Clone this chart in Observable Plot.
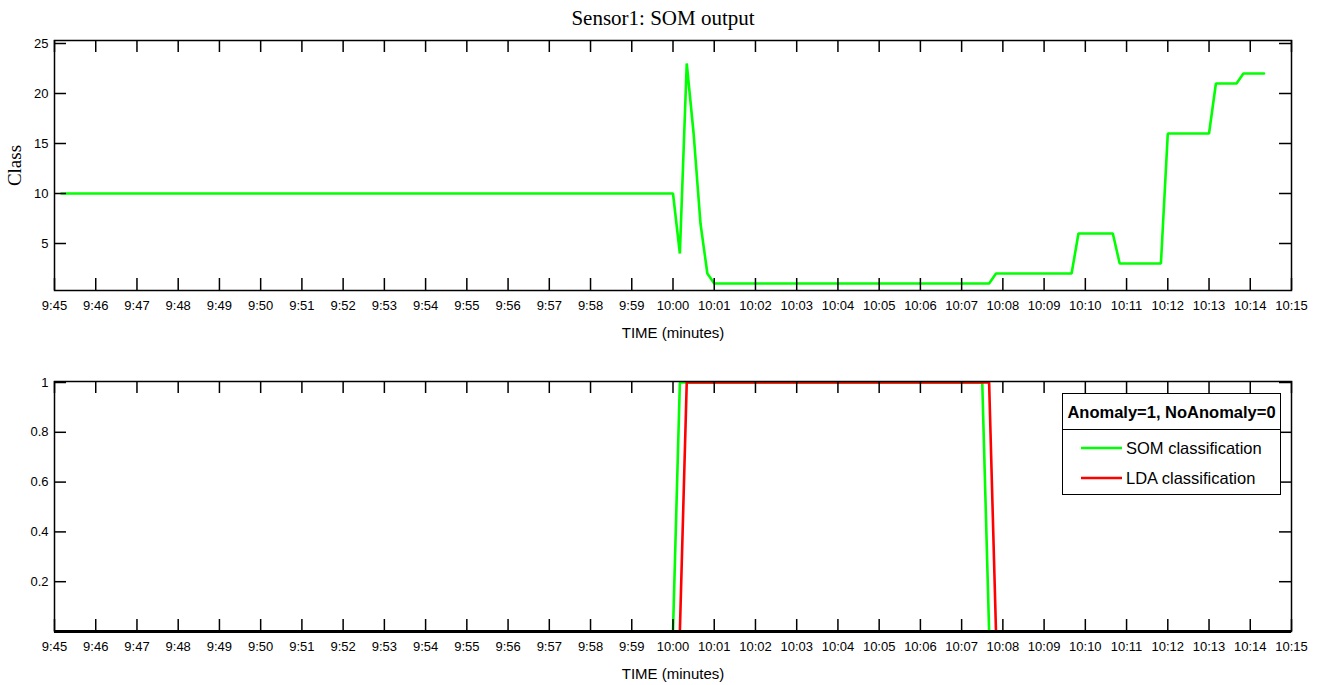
<!DOCTYPE html>
<html>
<head>
<meta charset="utf-8">
<script src="https://cdn.jsdelivr.net/npm/d3@7"></script>
<script src="https://cdn.jsdelivr.net/npm/@observablehq/plot@0.6"></script>
<style>
  html, body { margin: 0; padding: 0; background: #fff; }
  body { width: 1320px; height: 685px; position: relative; overflow: hidden; font-family: "Liberation Sans", Arial, Helvetica, sans-serif; }
  #title { position: absolute; left: 463px; width: 400px; top: 5px; line-height: 26px; text-align: center; font-family: "Liberation Serif", "Times New Roman", serif; font-size: 21px; color: #000; }
  .panel { position: absolute; left: 0; }
  #legend { position: absolute; left: 1062px; top: 393px; width: 219px; height: 102px; box-sizing: border-box; border: 1.5px solid #000; background: #fff; }
  #legend .head { height: 36px; box-sizing: border-box; border-bottom: 1.5px solid #000; font-weight: bold; font-size: 16.5px; line-height: 36px; text-align: center; color: #000; white-space: nowrap; }
  #legend .item { position: absolute; left: 17px; height: 24px; display: flex; align-items: center; font-size: 16.5px; color: #000; white-space: nowrap; }
  #legend .item svg { margin-right: 3px; }
</style>
</head>
<body>
<div id="title">Sensor1: SOM output</div>
<div id="top" class="panel" style="top:0px"></div>
<div id="bottom" class="panel" style="top:345px"></div>
<div id="legend"></div>
<script>
// ---------------- data ----------------
const titleText = "Sensor1: SOM output";
const xLabel = "TIME (minutes)";
const yLabelTop = "Class";

const xTickLabels = ["9:45","9:46","9:47","9:48","9:49","9:50","9:51","9:52","9:53","9:54","9:55","9:56","9:57","9:58","9:59",
  "10:00","10:01","10:02","10:03","10:04","10:05","10:06","10:07","10:08","10:09","10:10","10:11","10:12","10:13","10:14","10:15"];

const topYTicks = [5, 10, 15, 20, 25];
const topYTickLabels = ["5", "10", "15", "20", "25"];
const bottomYTicks = [0.2, 0.4, 0.6, 0.8, 1];
const bottomYTickLabels = ["0.2", "0.4", "0.6", "0.8", "1"];

// SOM output class over time
const somTimes = ["9:45:10","10:00:00","10:00:10","10:00:20","10:00:30","10:00:40","10:00:50","10:01:00",
  "10:07:40","10:07:50","10:09:40","10:09:50","10:10:40","10:10:50","10:11:50","10:12:00",
  "10:13:00","10:13:10","10:13:40","10:13:50","10:14:20"];
const somClass = [10,10,4,23,16,7,2,1,1,2,2,6,6,3,3,16,16,21,21,22,22];

// Anomaly classification (1 = anomaly, 0 = no anomaly)
const seriesNames = ["SOM classification", "LDA classification"];
const seriesColors = ["#00ff00", "#ff0000"];
const somAnomTimes = ["9:45:10","10:00:00","10:00:10","10:07:30","10:07:40","10:14:20"];
const somAnomValues = [0,0,1,1,0,0];
const ldaAnomTimes = ["9:45:10","10:00:10","10:00:20","10:07:40","10:07:50","10:14:20"];
const ldaAnomValues = [0,0,1,1,0,0];

const legendTitle = "Anomaly=1, NoAnomaly=0";

// ---------------- helpers ----------------
function t(s) {
  const [h, m, sec = 0] = s.split(":").map(Number);
  return new Date(Date.UTC(2000, 0, 1, h, m, sec));
}
const xTicks = xTickLabels.map(t);
const xLabelMap = new Map(xTicks.map((d, i) => [+d, xTickLabels[i]]));
const xDomain = [xTicks[0], xTicks[xTicks.length - 1]];

const somData = somTimes.map((s, i) => ({time: t(s), cls: somClass[i]}));
const anomData = [
  ...somAnomTimes.map((s, i) => ({time: t(s), v: somAnomValues[i], series: seriesNames[0]})),
  ...ldaAnomTimes.map((s, i) => ({time: t(s), v: ldaAnomValues[i], series: seriesNames[1]}))
];

const W = 1320, ML = 54, MR = 29;
const PW = W - ML - MR;
const PH = 250;
const TICK = 12;
const SW = 1.5;
const axisFont = "Liberation Sans, Arial, Helvetica, sans-serif";

function boxTicks(yTicks) {
  return [
    Plot.ruleX(xTicks, {x: d => d, insetTop: PH - TICK, stroke: "#000", strokeWidth: SW}),
    Plot.ruleX(xTicks, {x: d => d, insetBottom: PH - TICK, stroke: "#000", strokeWidth: SW}),
    Plot.ruleY(yTicks, {y: d => d, insetRight: PW - TICK, stroke: "#000", strokeWidth: SW}),
    Plot.ruleY(yTicks, {y: d => d, insetLeft: PW - TICK, stroke: "#000", strokeWidth: SW})
  ];
}

function xAxisMarks() {
  return [
    Plot.axisX({ticks: xTicks, tickFormat: d => xLabelMap.get(+d), tickSize: 0, tickPadding: 10, label: null, fontSize: 13}),
    Plot.text([xLabel], {text: d => d, frameAnchor: "bottom", lineAnchor: "middle", textAnchor: "middle", dy: 43, fontSize: 15, fill: "#000"})
  ];
}

// ---------------- top panel ----------------
const topPlot = Plot.plot({
  width: W, height: 345,
  marginTop: 40, marginBottom: 55, marginLeft: ML, marginRight: MR,
  style: {fontFamily: axisFont, fontSize: "13px", background: "transparent", color: "#000", overflow: "visible"},
  x: {type: "utc", domain: xDomain},
  y: {domain: [0.3, 25.3]},
  marks: [
    Plot.line(somData, {x: "time", y: "cls", stroke: seriesColors[0], strokeWidth: 2.6, strokeLinejoin: "miter"}),
    Plot.frame({stroke: "#000", strokeWidth: SW}),
    ...boxTicks(topYTicks),
    ...xAxisMarks(),
    Plot.axisY({ticks: topYTicks, tickFormat: (d) => topYTickLabels[topYTicks.indexOf(d)], tickSize: 0, tickPadding: 6, label: null, fontSize: 13}),
    Plot.text([yLabelTop], {text: d => d, frameAnchor: "left", textAnchor: "middle", lineAnchor: "middle", dx: -40, rotate: -90, fontSize: 19, fontFamily: "Liberation Serif, Times New Roman, serif", fill: "#000"})
  ]
});
document.getElementById("top").appendChild(topPlot);

// ---------------- bottom panel ----------------
const bottomPlot = Plot.plot({
  width: W, height: 340,
  marginTop: 36, marginBottom: 54, marginLeft: ML, marginRight: MR,
  style: {fontFamily: axisFont, fontSize: "13px", background: "transparent", color: "#000", overflow: "visible"},
  x: {type: "utc", domain: xDomain},
  y: {domain: [0, 1.004]},
  color: {domain: seriesNames, range: seriesColors},
  marks: [
    Plot.line(anomData, {x: "time", y: "v", z: "series", stroke: "series", strokeWidth: 2.6, strokeLinejoin: "miter", clip: true}),
    Plot.frame({stroke: "#000", strokeWidth: SW}),
    Plot.ruleY([0], {stroke: "#000", strokeWidth: 2.8}),
    ...boxTicks(bottomYTicks),
    ...xAxisMarks(),
    Plot.axisY({ticks: bottomYTicks, tickFormat: (d) => bottomYTickLabels[bottomYTicks.indexOf(d)], tickSize: 0, tickPadding: 6, label: null, fontSize: 13})
  ]
});
document.getElementById("bottom").appendChild(bottomPlot);

// ---------------- legend ----------------
const legend = document.getElementById("legend");
const head = document.createElement("div");
head.className = "head";
head.textContent = legendTitle;
legend.appendChild(head);
seriesNames.forEach((name, i) => {
  const item = document.createElement("div");
  item.className = "item";
  item.style.top = (42 + i * 30) + "px";
  item.innerHTML = `<svg width="43" height="6"><line x1="1" y1="3" x2="42" y2="3" stroke="${seriesColors[i]}" stroke-width="2.6"/></svg><span>${name}</span>`;
  legend.appendChild(item);
});
</script>
</body>
</html>
